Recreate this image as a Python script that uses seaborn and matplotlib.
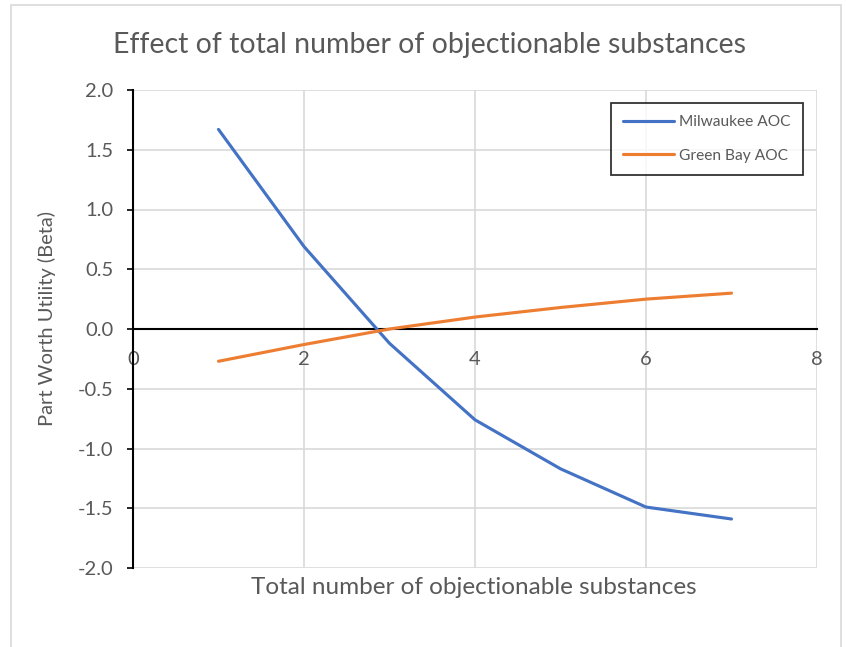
import matplotlib
matplotlib.use("Agg")
import matplotlib.pyplot as plt
import seaborn as sns
import pandas as pd
from matplotlib.patches import Rectangle

# Part-worth utilities by total number of objectionable substances
substances = [1, 2, 3, 4, 5, 6, 7]
milwaukee = [1.67, 0.69, -0.12, -0.76, -1.17, -1.49, -1.59]
green_bay = [-0.27, -0.13, 0.00, 0.10, 0.18, 0.25, 0.30]
series_names = ["Milwaukee AOC", "Green Bay AOC"]
x_ticks = [0, 2, 4, 6, 8]
y_ticks = [-2.0, -1.5, -1.0, -0.5, 0.0, 0.5, 1.0, 1.5, 2.0]

df = pd.DataFrame({
    "substances": substances * 2,
    "beta": milwaukee + green_bay,
    "series": [series_names[0]] * len(substances) + [series_names[1]] * len(substances),
})

sns.set_theme(style="white")
plt.rcParams["font.family"] = ["Lato", "DejaVu Sans"]

text_gray = "#595959"
grid_gray = "#d9d9d9"

fig = plt.figure(figsize=(8.46, 6.47), dpi=100)
fig.patch.set_facecolor("white")

# outer chart frame
fig.patches.append(Rectangle((11 / 846, -0.05), (841 - 11) / 846, 1.05 - 5 / 647,
                             transform=fig.transFigure, fill=False,
                             edgecolor="#d9d9d9", linewidth=1.2))

ax = fig.add_axes([133 / 846, 1 - 568 / 647, (817 - 133) / 846, (568 - 90) / 647])

sns.lineplot(data=df, x="substances", y="beta", hue="series",
             palette=["#4472C4", "#ED7D31"], linewidth=2.25, ax=ax,
             sort=False, estimator=None)

ax.set_xlim(0, 8)
ax.set_ylim(-2.0, 2.0)
ax.set_xticks(x_ticks)
ax.set_yticks(y_ticks)
ax.set_xticklabels([str(v) for v in x_ticks])
ax.set_yticklabels([f"{v:.1f}" for v in y_ticks])

ax.grid(True, color=grid_gray, linewidth=1.2)
ax.set_axisbelow(True)

for side in ["top", "right"]:
    ax.spines[side].set_visible(False)
ax.spines["left"].set_color("black")
ax.spines["left"].set_linewidth(1.5)
ax.spines["bottom"].set_position(("data", 0))
ax.spines["bottom"].set_color("black")
ax.spines["bottom"].set_linewidth(1.5)
ax.spines["bottom"].set_zorder(1.5)

ax.tick_params(axis="y", left=True, length=4, width=1.2, color="black",
               pad=10, labelsize=14.5, labelcolor=text_gray)
ax.tick_params(axis="x", bottom=False, pad=10, labelsize=14.5, labelcolor=text_gray)

ax.set_xlabel("")
ax.set_ylabel("")

fig.text(429 / 846, 1 - 45 / 647, "Effect of total number of objectionable substances",
         ha="center", va="center", fontsize=20.5, color=text_gray)
fig.text(474 / 846, 1 - 588 / 647, "Total number of objectionable substances",
         ha="center", va="center", fontsize=17.5, color=text_gray)
fig.text(47 / 846, 1 - 318 / 647, "Part Worth Utility (Beta)",
         ha="center", va="center", rotation=90, fontsize=14.5, color=text_gray)

leg = ax.legend(loc="upper right", bbox_to_anchor=(803 / 846, 1 - 103 / 647),
                bbox_transform=fig.transFigure, frameon=True, fancybox=False,
                edgecolor="black", fontsize=11.2, handlelength=3.3,
                borderpad=0.8, labelspacing=1.25, handletextpad=0.3,
                borderaxespad=0)
leg.get_frame().set_linewidth(1.3)
for t in leg.get_texts():
    t.set_color(text_gray)

fig.savefig("out.png", dpi=100)
